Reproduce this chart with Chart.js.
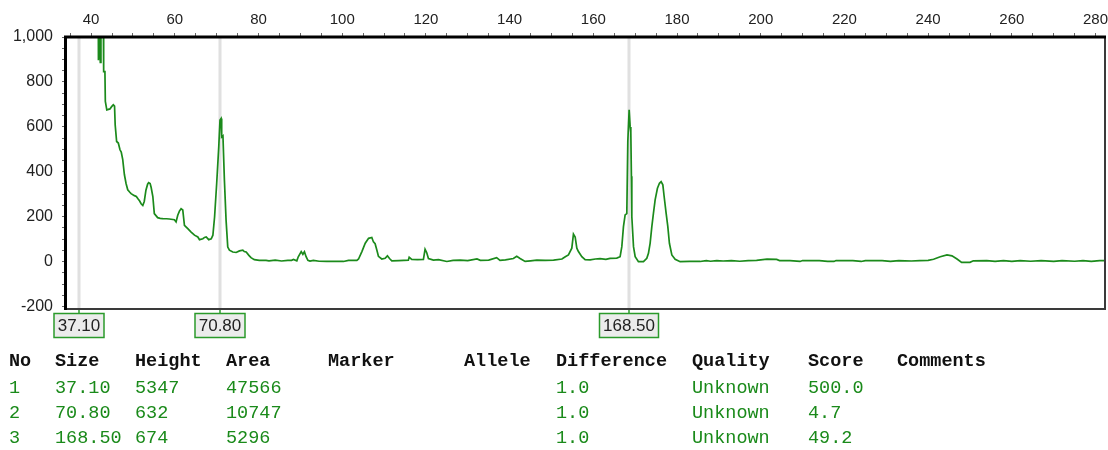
<!DOCTYPE html>
<html lang="en">
<head>
<meta charset="UTF-8">
<title>Electropherogram</title>
<script src="https://cdn.jsdelivr.net/npm/chart.js"></script>
<style>
  body { margin: 0; background: #fff; width: 1108px; height: 450px; overflow: hidden; position: relative; }
  #chart-container { position: absolute; left: 0; top: 0; width: 1108px; height: 345px; }
  #peak-table { position: absolute; left: 0; top: 0; width: 1108px; height: 450px;
    font-family: "Liberation Mono", "Courier New", monospace; font-size: 18.5px; }
  .cell { position: absolute; line-height: 20px; white-space: pre; color: #1a8a1a; }
  .head { font-weight: bold; color: #111; }
</style>
</head>
<body>
<div id="chart-container"><canvas id="chart" width="1108" height="345"></canvas></div>
<div id="peak-table"></div>

<script>
// trace: size (bp) and signal (RFU)
const sizeVals = [
  41.7, 41.75, 41.9, 42.05, 42.2, 42.35, 42.9, 43.0, 43.3, 43.4, 43.75, 44.5, 44.9, 45.3, 45.6, 45.75,
  46.1, 46.5, 46.9, 47.2, 47.55, 47.95, 48.35, 48.75, 49.2, 49.55, 50.35, 50.8, 51.15, 51.6, 51.95, 52.35,
  52.7, 53.1, 53.5, 53.75, 54.1, 54.35, 54.75, 55.1, 55.9, 56.5, 57.1, 58.0, 58.7, 59.9, 60.3, 60.7,
  61.1, 61.5, 61.9, 62.3, 63.1, 63.9, 64.7, 65.5, 65.9, 66.7, 67.1, 67.5, 68.1, 68.7, 69.1, 69.5,
  70.0, 70.5, 70.8, 71.05, 71.2, 71.5, 71.85, 72.25, 72.65, 73.05, 73.85, 74.65, 75.45, 76.25, 76.6, 77.05,
  77.7, 78.2, 79.0, 80.2, 81.8,
  82.5, 84.0, 85.5, 87.0, 87.9, 88.35, 89.15, 89.5, 90.2, 90.6, 90.97, 91.37, 91.8, 92.3, 93.1, 94.5,
  96.3, 98.0, 100.3, 101.5, 103.5, 103.9, 104.7, 105.5, 106.3, 107.07, 107.46, 107.86, 108.27, 108.65, 109.46, 110.25,
  110.8, 111.3, 111.85, 113.5, 115.8, 116.0, 116.6, 118.0, 119.4, 119.8, 120.2, 120.6, 121.8, 123.0, 125.0, 126.5,
  128.2, 130.0, 132.2, 133.0, 135.0, 136.9, 137.7, 139.0, 140.9, 141.7, 142.5, 143.7, 145.0, 146.5, 148.5, 150.5,
  152.5, 153.3, 154.05, 154.86, 155.25, 155.66, 156.06, 156.44, 157.25, 158.04, 159.24,
  160.5, 161.6, 163.0, 164.0, 165.6, 166.4, 166.81, 167.2, 167.6, 168.0, 168.24, 168.56, 168.8, 168.96, 169.1, 169.2,
  169.6, 170.0, 170.78, 171.98, 172.78, 173.17, 173.57, 173.98, 174.36, 174.77, 175.32, 175.8, 176.2, 176.61, 176.92, 177.4,
  177.8, 178.18, 178.76, 179.55, 180.75, 183.0, 185.5,
  187.0, 188.0, 189.5, 191.0, 193.0, 195.0, 197.0, 199.0, 201.5, 203.8, 204.5, 207.0, 209.4, 210.0, 214.0, 216.0,
  217.5, 218.0, 222.0, 224.0, 225.0, 229.0, 231.0, 233.0, 236.0, 238.0, 240.0, 241.3, 242.9, 244.5, 245.7, 246.9,
  248.0, 250.0, 250.8, 254.0, 256.0, 258.0, 260.0, 262.0, 264.5, 267.0, 270.0, 272.0, 275.0, 277.0, 279.0, 281.0,
  282.5
];
const rfuVals = [
  1150, 897, 1050, 1050, 887, 1150, 1150, 846, 846, 713, 676, 680, 690, 698, 692, 609,
  535, 528, 498, 488, 455, 388, 348, 320, 310, 303, 294, 290, 281, 270, 258, 250,
  268, 318, 345, 352, 348, 330, 290, 214, 196, 193, 192, 191, 190, 187, 177, 207,
  225, 236, 230, 162, 147, 132, 118, 110, 98, 102, 108, 110, 98, 102, 118, 199,
  347, 511, 630, 637, 555, 560, 363, 184, 65, 51, 43, 41, 48, 51, 45, 43,
  28, 18, 9, 6, 6,
  4, 7, 3, 6, 6, 10, 4, 22, 45, 33, 44, 22, 6, 3, 6, 2,
  1, 2, 1, 6, 6, 12, 45, 82, 104, 108, 88, 80, 52, 24, 12, 15,
  26, 14, 4, 5, 7, 20, 10, 9, 10, 55, 40, 14, 7, 9, 1, 6,
  7, 5, 12, 6, 7, 18, 6, 8, 14, 24, 14, 1, 4, 7, 6, 7,
  12, 22, 30, 60, 123, 110, 60, 45, 22, 9, 8,
  12, 14, 10, 15, 16, 22, 67, 156, 208, 214, 535, 676, 600, 575, 380, 200,
  67, 22, 0, 0, 15, 37, 82, 156, 215, 275, 327, 349, 356, 342, 290, 215,
  156, 82, 30, 11, 0, 1, 1,
  5, 2, 5, 3, 5, 2, 5, 6, 11, 10, 5, 5, 1, 5, 5, 1,
  1, 5, 5, 1, 5, 5, 1, 5, 3, 5, 6, 11, 22, 30, 26, 12,
  -3, -3, 4, 5, 1, 5, 1, 5, 2, 5, 1, 5, 2, 5, 1, 5,
  5
];

// called peaks
const markerSizes = [37.10, 70.80, 168.50];
const markerLabels = ['37.10', '70.80', '168.50'];

// axis labels
const xTickLabels = [40, 60, 80, 100, 120, 140, 160, 180, 200, 220, 240, 260, 280];
const yTickLabels = [-200, 0, 200, 400, 600, 800, 1000];

// peak table
const tableHeaders = ['No', 'Size', 'Height', 'Area', 'Marker', 'Allele', 'Difference', 'Quality', 'Score', 'Comments'];
const peakNo = ['1', '2', '3'];
const peakSize = ['37.10', '70.80', '168.50'];
const peakHeight = ['5347', '632', '674'];
const peakArea = ['47566', '10747', '5296'];
const peakMarker = ['', '', ''];
const peakAllele = ['', '', ''];
const peakDiff = ['1.0', '1.0', '1.0'];
const peakQuality = ['Unknown', 'Unknown', 'Unknown'];
const peakScore = ['500.0', '4.7', '49.2'];
const peakComments = ['', '', ''];

const traceColor = '#1b8a1b';
const points = sizeVals.map((s, i) => ({ x: s, y: rfuVals[i] }));

// grey marker lines, frame and boxed size labels
const markerPlugin = {
  id: 'markers',
  beforeDatasetsDraw(chart) {
    const { ctx, chartArea: a, scales } = chart;
    ctx.save();
    ctx.strokeStyle = '#e0e0e0';
    ctx.lineWidth = 3;
    markerSizes.forEach(m => {
      const x = Math.round(scales.x.getPixelForValue(m));
      ctx.beginPath();
      ctx.moveTo(x, a.top);
      ctx.lineTo(x, a.bottom);
      ctx.stroke();
    });
    ctx.restore();
  },
  afterDatasetsDraw(chart) {
    const { ctx, chartArea: a, scales } = chart;
    ctx.save();
    // frame: thin right/bottom, thick top/left
    ctx.strokeStyle = '#3a3a3a';
    ctx.lineWidth = 2;
    ctx.beginPath();
    ctx.moveTo(a.right - 1, a.top);
    ctx.lineTo(a.right - 1, a.bottom - 1);
    ctx.lineTo(a.left, a.bottom - 1);
    ctx.stroke();
    ctx.strokeStyle = '#000';
    ctx.lineWidth = 3;
    ctx.beginPath();
    ctx.moveTo(a.left - 0.5, a.bottom);
    ctx.lineTo(a.left - 0.5, a.top);
    ctx.lineTo(a.right, a.top);
    ctx.stroke();

    ctx.font = '17px "Liberation Sans", Arial, sans-serif';
    ctx.textAlign = 'center';
    ctx.textBaseline = 'middle';
    markerLabels.forEach((lab, i) => {
      const x = Math.round(scales.x.getPixelForValue(markerSizes[i]));
      const w = Math.round(ctx.measureText(lab).width + 7);
      const top = a.bottom + 3.5;
      const h = 24;
      ctx.strokeStyle = '#2b9a2b';
      ctx.lineWidth = 1.5;
      ctx.beginPath();
      ctx.moveTo(x, a.bottom);
      ctx.lineTo(x, top);
      ctx.stroke();
      ctx.fillStyle = '#ececec';
      ctx.fillRect(x - w / 2, top, w, h);
      ctx.strokeRect(x - w / 2, top, w, h);
      ctx.fillStyle = '#222';
      ctx.fillText(lab, x, top + h / 2 + 1);
    });
    ctx.restore();
  }
};

// keep the plot box fixed: no extra room for overhanging labels
function noOverhang(s) {
  s.paddingLeft = 0;
  s.paddingRight = 0;
  s.paddingTop = 0;
  s.paddingBottom = 0;
}

const ctx = document.getElementById('chart').getContext('2d');
new Chart(ctx, {
  type: 'line',
  data: {
    datasets: [{
      data: points,
      borderColor: traceColor,
      borderWidth: 1.7,
      pointRadius: 0,
      tension: 0,
      fill: false
    }]
  },
  options: {
    responsive: false,
    animation: false,
    layout: { padding: { left: 0, right: 2, top: 0, bottom: 35 } },
    plugins: { legend: { display: false }, tooltip: { enabled: false } },
    scales: {
      x: {
        type: 'linear',
        position: 'top',
        min: 34,
        max: 282.5,
        afterBuildTicks: s => {
          const t = [];
          for (let v = 35; v <= 280; v += 5) t.push({ value: v });
          s.ticks = t;
        },
        afterFit: s => { s.height = 37; noOverhang(s); },
        grid: { drawOnChartArea: false, drawTicks: true, tickLength: 4, tickColor: '#666' },
        border: { display: false },
        ticks: {
          autoSkip: false,
          maxRotation: 0,
          padding: 4,
          color: '#222',
          font: { family: '"Liberation Sans", Arial, sans-serif', size: 15 },
          callback: v => xTickLabels.includes(v) ? String(v) : ''
        }
      },
      y: {
        min: -215,
        max: 1000,
        afterBuildTicks: s => {
          const t = [];
          for (let v = -200; v <= 1000; v += 50) t.push({ value: v });
          s.ticks = t;
        },
        afterFit: s => { s.width = 66; noOverhang(s); },
        grid: { drawOnChartArea: false, drawTicks: true, tickLength: 4, tickColor: '#666' },
        border: { display: false },
        ticks: {
          autoSkip: false,
          padding: 9,
          color: '#222',
          font: { family: '"Liberation Sans", Arial, sans-serif', size: 16 },
          callback: v => yTickLabels.includes(v) ? v.toLocaleString('en-US') : ''
        }
      }
    }
  },
  plugins: [markerPlugin]
});

// table under the plot
const colX = [9, 55, 135, 226, 328, 464, 556, 692, 808, 897];
const rowTop = [352, 379, 404, 429];
const columns = [peakNo, peakSize, peakHeight, peakArea, peakMarker, peakAllele, peakDiff, peakQuality, peakScore, peakComments];
const tbl = document.getElementById('peak-table');
tableHeaders.forEach((h, c) => {
  tbl.innerHTML += `<div class="cell head" style="left:${colX[c]}px;top:${rowTop[0]}px">${h}</div>`;
});
for (let r = 0; r < peakNo.length; r++) {
  columns.forEach((col, c) => {
    if (col[r] === '') return;
    tbl.innerHTML += `<div class="cell" style="left:${colX[c]}px;top:${rowTop[r + 1]}px">${col[r]}</div>`;
  });
}
</script>
</body>
</html>
